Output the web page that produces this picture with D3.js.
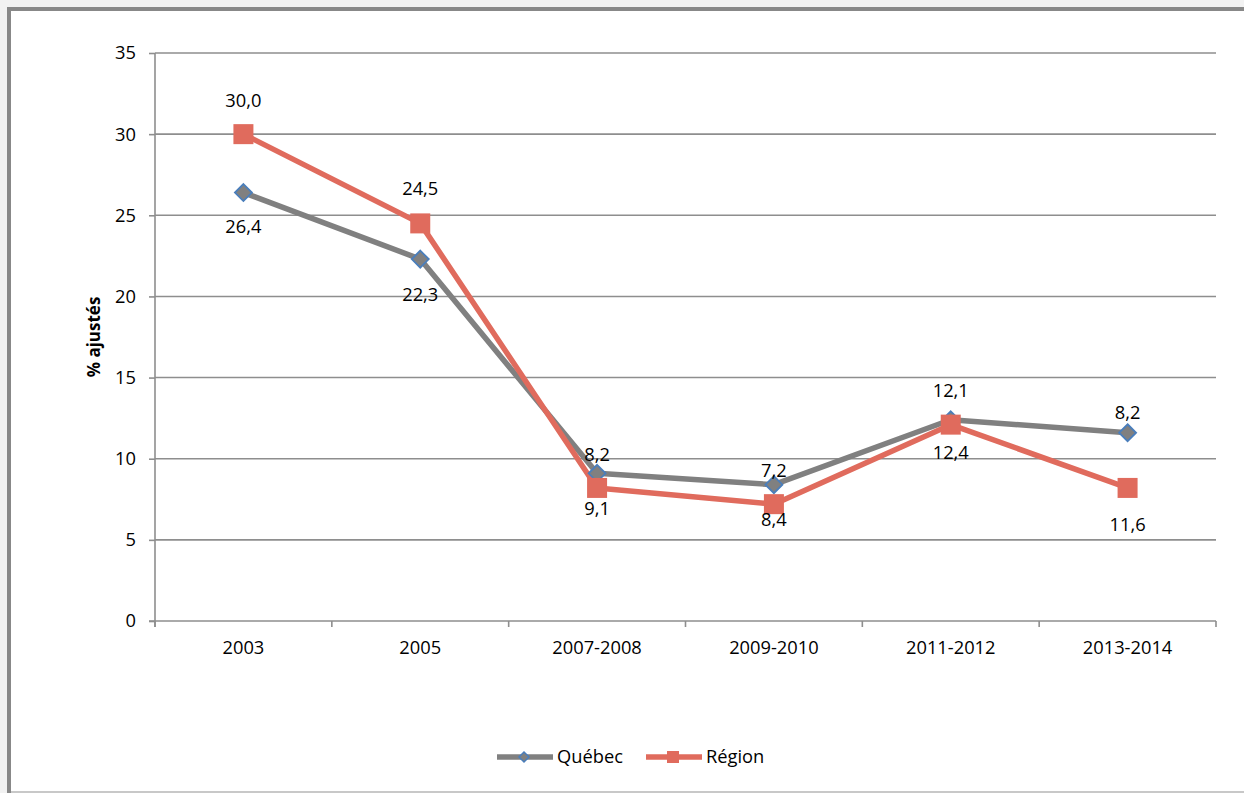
<!DOCTYPE html>
<html>
<head>
<meta charset="utf-8">
<script src="https://cdn.jsdelivr.net/npm/d3@7"></script>
<style>
  html, body { margin: 0; padding: 0; background: #f2f2f2; }
  svg { display: block; }
  text { font-family: "Open Sans", Lato, sans-serif; fill: #000; }
</style>
</head>
<body>
<svg id="chart" width="1244" height="793"></svg>
<script>
// Periods on the horizontal axis
const categories = ["2003", "2005", "2007-2008", "2009-2010", "2011-2012", "2013-2014"];
// Adjusted percentages per series
const quebecValues = [26.4, 22.3, 9.1, 8.4, 12.4, 11.6];
const regionValues = [30.0, 24.5, 8.2, 7.2, 12.1, 8.2];
// Y axis ticks
const yTicks = [0, 5, 10, 15, 20, 25, 30, 35];
const seriesNames = ["Québec", "Région"];

// Vertical label offsets (px) from each point
const quebecLabelDy = [34, 35, 35, 35, 33, 92];
const regionLabelDy = [-34, -35, -33, -34, -34, -75];

const svg = d3.select("#chart");
const W = 1244, H = 793;

// Frame
svg.append("rect").attr("x", 11).attr("y", 11).attr("width", W).attr("height", 780).attr("fill", "#fff");
svg.append("line").attr("x1", 9).attr("x2", 9).attr("y1", 7).attr("y2", 793)
  .attr("stroke", "#888").attr("stroke-width", 4);
svg.append("line").attr("x1", 7).attr("x2", W).attr("y1", 9).attr("y2", 9)
  .attr("stroke", "#888").attr("stroke-width", 4);
svg.append("line").attr("x1", 11).attr("x2", W).attr("y1", 792).attr("y2", 792)
  .attr("stroke", "#c8c8c8").attr("stroke-width", 2);

const plot = { left: 155, right: 1216, top: 53, bottom: 621 };

const x = d3.scaleBand().domain(categories).range([plot.left, plot.right]).padding(0);
const y = d3.scaleLinear().domain([0, 35]).range([plot.bottom, plot.top]);
const cx = c => x(c) + x.bandwidth() / 2;

const fontSize = 18.3;

// Horizontal gridlines
svg.append("g").selectAll("line").data(yTicks.filter(t => t > 0)).join("line")
  .attr("x1", plot.left).attr("x2", plot.right)
  .attr("y1", d => y(d)).attr("y2", d => y(d))
  .attr("stroke", "#8e8e8e").attr("stroke-width", 1.6);

// Y axis
const yAxis = svg.append("g").attr("transform", `translate(${plot.left},0)`)
  .call(d3.axisLeft(y).tickValues(yTicks).tickSize(6).tickPadding(13).tickFormat(d3.format("d")));
yAxis.select(".domain").attr("stroke", "#8e8e8e").attr("stroke-width", 1.6)
  .attr("d", `M0,${plot.top}V${plot.bottom + 6}`);
yAxis.selectAll(".tick line").attr("stroke", "#8e8e8e").attr("stroke-width", 1.6);
yAxis.selectAll(".tick text").attr("font-size", fontSize).attr("fill", "#000")
  .style("font-family", "'Open Sans', Lato, sans-serif");

// X axis (ticks at category boundaries)
const xAxisG = svg.append("g").attr("transform", `translate(0,${plot.bottom})`);
xAxisG.append("line").attr("x1", plot.left - 6).attr("x2", plot.right)
  .attr("stroke", "#8e8e8e").attr("stroke-width", 1.6);
const boundaries = categories.map(c => x(c)).concat([plot.right]);
xAxisG.selectAll("line.tk").data(boundaries).join("line").attr("class", "tk")
  .attr("x1", d => d).attr("x2", d => d).attr("y1", 0).attr("y2", 6)
  .attr("stroke", "#8e8e8e").attr("stroke-width", 1.6);
xAxisG.selectAll("text").data(categories).join("text")
  .attr("x", d => cx(d)).attr("y", 27).attr("dy", "0.35em")
  .attr("text-anchor", "middle").attr("font-size", fontSize).text(d => d);

// Axis title
svg.append("text")
  .attr("transform", `translate(94,${(plot.top + plot.bottom) / 2}) rotate(-90)`)
  .attr("text-anchor", "middle").attr("dy", "0.35em")
  .attr("font-size", 17).attr("font-weight", "bold").text("% ajustés");

const line = d3.line().x((d, i) => cx(categories[i])).y(d => y(d));
const grey = "#808080", red = "#e06b5d", blue = "#4a7ebb";

// Québec series
svg.append("path").datum(quebecValues).attr("d", line)
  .attr("fill", "none").attr("stroke", grey).attr("stroke-width", 5.5).attr("stroke-linejoin", "round");
// Région series
svg.append("path").datum(regionValues).attr("d", line)
  .attr("fill", "none").attr("stroke", red).attr("stroke-width", 5.5).attr("stroke-linejoin", "round");

const diamond = (s) => `M0,${-s}L${s},0L0,${s}L${-s},0Z`;

svg.append("g").selectAll("path").data(quebecValues).join("path")
  .attr("transform", (d, i) => `translate(${cx(categories[i])},${y(d)})`)
  .attr("d", diamond(8.5)).attr("fill", grey).attr("stroke", blue).attr("stroke-width", 1.8);

svg.append("g").selectAll("rect").data(regionValues).join("rect")
  .attr("x", (d, i) => cx(categories[i]) - 10).attr("y", d => y(d) - 10)
  .attr("width", 20).attr("height", 20).attr("fill", red);

const fmt = v => v.toFixed(1).replace(".", ",");

// Data labels
svg.append("g").selectAll("text").data(regionValues).join("text")
  .attr("x", (d, i) => cx(categories[i])).attr("y", (d, i) => y(d) + regionLabelDy[i])
  .attr("dy", "0.35em").attr("text-anchor", "middle").attr("font-size", fontSize).text(fmt);
svg.append("g").selectAll("text").data(quebecValues).join("text")
  .attr("x", (d, i) => cx(categories[i])).attr("y", (d, i) => y(d) + quebecLabelDy[i])
  .attr("dy", "0.35em").attr("text-anchor", "middle").attr("font-size", fontSize).text(fmt);

// Legend
const legY = 757;
const leg = svg.append("g");
leg.append("line").attr("x1", 497).attr("x2", 553).attr("y1", legY).attr("y2", legY)
  .attr("stroke", grey).attr("stroke-width", 5.5);
leg.append("path").attr("transform", `translate(524,${legY})`).attr("d", diamond(5))
  .attr("fill", grey).attr("stroke", blue).attr("stroke-width", 1.5);
leg.append("text").attr("x", 557).attr("y", legY).attr("dy", "0.35em").attr("font-size", fontSize).text(seriesNames[0]);
leg.append("line").attr("x1", 646).attr("x2", 702).attr("y1", legY).attr("y2", legY)
  .attr("stroke", red).attr("stroke-width", 5.5);
leg.append("rect").attr("x", 667).attr("y", legY - 6).attr("width", 12).attr("height", 12).attr("fill", red);
leg.append("text").attr("x", 706).attr("y", legY).attr("dy", "0.35em").attr("font-size", fontSize).text(seriesNames[1]);
</script>
</body>
</html>
